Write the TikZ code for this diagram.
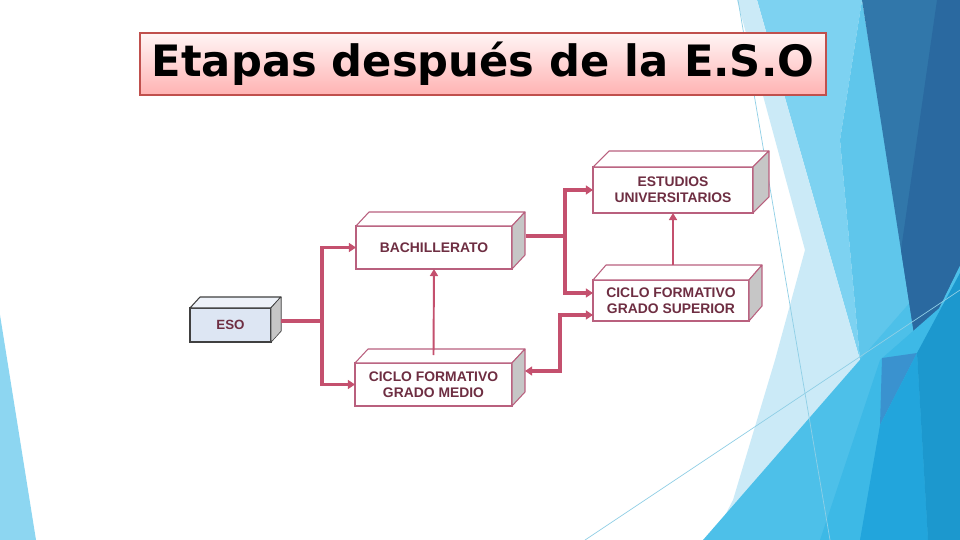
\documentclass[tikz,border=0pt]{standalone}
\usepackage{fontspec}
\setmainfont{Liberation Sans}
\newfontfamily\titlefont{DejaVu Sans}
\usetikzlibrary{arrows.meta, calc}

\definecolor{conncol}{HTML}{C4506E}
\definecolor{bordecaja}{HTML}{B9607E}
\definecolor{textocaja}{HTML}{6E2E42}
\definecolor{ladogris}{HTML}{C6C6C6}
\definecolor{esofondo}{HTML}{DDE6F3}
\definecolor{esotapa}{HTML}{EEF2F9}
\definecolor{tituloborde}{HTML}{C0504D}
\definecolor{fpale}{HTML}{CBEAF7}
\definecolor{flight}{HTML}{7DD2F1}
\definecolor{fmid}{HTML}{5FC6EB}
\definecolor{fbig}{HTML}{4DC0E9}
\definecolor{fdark}{HTML}{3177AA}
\definecolor{fdarker}{HTML}{2A69A0}
\definecolor{fbright}{HTML}{3DB9E6}
\definecolor{fstrip}{HTML}{3A92CF}
\definecolor{fbright2}{HTML}{22A5DC}
\definecolor{fdeep}{HTML}{1C98CE}
\definecolor{fleft}{HTML}{8DD6F1}
\definecolor{flinea}{HTML}{8FCFE6}

\tikzset{
  etapa/.style={draw=bordecaja, line width=0.6pt, fill=white, inner sep=0pt,
    outer sep=0pt, align=center, text=textocaja,
    font=\fontsize{7.9}{9.1}\selectfont\bfseries},
  cara/.style={draw=bordecaja, line width=0.6pt, line join=round},
  conn/.style={draw=conncol, line width=2pt, -{Triangle[length=4pt,width=5pt]}},
  connfino/.style={draw=conncol, line width=1.1pt, -{Triangle[length=4pt,width=4.5pt]}},
}

% box faces: name, dx, dy
\newcommand{\caja}[4][]{%
  \draw[cara, fill=white, #1] (#2.north west) -- ++(#3,-#4)
    -- ($(#2.north east)+(#3,-#4)$) -- (#2.north east) -- cycle;
  \draw[cara, fill=ladogris, #1] (#2.north east) -- ++(#3,-#4)
    -- ($(#2.south east)+(#3,-#4)$) -- (#2.south east) -- cycle;
}

\begin{document}
\begin{tikzpicture}[x=0.02cm, y=-0.02cm]
\useasboundingbox (0,0) rectangle (960,540);
\fill[white] (0,0) rectangle (960,540);

% background facets
\fill[fleft] (0,315) -- (36,540) -- (0,540) -- cycle;
\fill[flight] (757,0) -- (862,0) -- (840,140) -- (860,360) -- cycle;
\fill[fmid] (862,0) -- (918,343) -- (860,360) -- (840,140) -- cycle;
\fill[fpale] (737,0) -- (757,0) -- (860,360) -- (720,525) -- (733,500)
  -- (775,360) -- (805,250) -- cycle;
\fill[fbig] (960,245) -- (960,540) -- (703,540) -- cycle;
\fill[fdark] (862,0) -- (960,0) -- (960,265) -- (917,353) -- cycle;
\fill[fdarker] (937,0) -- (960,0) -- (960,265) -- (917,353) -- (901,250) -- cycle;
\fill[fbright] (880,360) -- (960,290) -- (960,540) -- (820,540) -- cycle;
\fill[fstrip] (882,358) -- (917,353) -- (880,425) -- cycle;
\fill[fbright2] (880,425) -- (917,353) -- (928,540) -- (860,540) -- cycle;
\fill[fdeep] (917,353) -- (960,273) -- (960,540) -- (928,540) -- cycle;
\draw[flinea, line width=0.4pt] (738,0) -- (830,540);
\draw[flinea, line width=0.4pt] (585,540) -- (960,290);

% title
\node[draw=tituloborde, line width=1.6pt, top color=red!4, bottom color=red!30,
  minimum width=13.72cm, minimum height=1.24cm, inner sep=0pt,
  font=\titlefont\fontsize{24.6}{28}\selectfont\bfseries] (titulo) at (483,64)
  {Etapas después de la E.S.O};

% stages
\node[etapa, draw=black!75, fill=esofondo, minimum width=1.62cm, minimum height=0.68cm,
  font=\fontsize{7.6}{9}\selectfont\bfseries] (eso) at (230.5,325) {ESO};
\caja[draw=black!75, fill=esotapa]{eso}{10}{11}
\fill[ladogris] ($(eso.north east)+(0.6,0)$) -- ++(9,-10) -- ($(eso.south east)+(9.6,-11)$)
  -- ($(eso.south east)+(0.6,-1)$) -- cycle;

\node[etapa, minimum width=3.12cm, minimum height=0.86cm] (bach) at (434,247.5) {BACHILLERATO};
\caja{bach}{13}{14}

\node[etapa, minimum width=3.14cm, minimum height=0.86cm] (cfgm) at (433.5,384.5)
  {CICLO FORMATIVO\\GRADO MEDIO};
\caja{cfgm}{13}{14}

\node[etapa, minimum width=3.2cm, minimum height=0.92cm] (eu) at (673,190)
  {ESTUDIOS\\UNIVERSITARIOS};
\caja{eu}{16}{16}

\node[etapa, minimum width=3.12cm, minimum height=0.82cm] (cfgs) at (671,300.5)
  {CICLO FORMATIVO\\GRADO SUPERIOR};
\caja{cfgs}{13}{15}

% connectors
\coordinate (esoSal) at ($(eso.east)+(10,-4)$);
\coordinate (horqA) at (322,321);
\coordinate (bachSal) at ($(bach.east)+(14,-11.5)$);
\coordinate (horqB) at (565,236);
\coordinate (cfgsAlto) at ($(cfgs.west)+(0,-7.5)$);
\coordinate (cfgsBajo) at ($(cfgs.west)+(0,14.5)$);
\coordinate (cfgmLado) at ($(cfgm.east)+(13,-13.5)$);
\coordinate (cfgmTapa) at ($(cfgm.north)+(0,-8)$);
\coordinate (cfgsTapa) at ($(cfgs.north)+(2,-15)$);

\draw[conncol, line width=2pt] (esoSal) -- (horqA);
\draw[conn] (horqA) |- (bach.west);
\draw[conn] (horqA) |- (cfgm.west);
\draw[conncol, line width=2pt] (bachSal) -- (horqB);
\draw[conn] (horqB) |- (eu.west);
\draw[conn] (horqB) |- (cfgsAlto);
\draw[conn, {Triangle[length=4pt,width=5pt]}-{Triangle[length=4pt,width=5pt]}]
  (cfgmLado) -- ++(35,0) |- (cfgsBajo);
\draw[connfino] (cfgmTapa) -- (bach.south);
\draw[connfino] (cfgsTapa) -- (cfgsTapa |- eu.south);
\end{tikzpicture}
\end{document}
